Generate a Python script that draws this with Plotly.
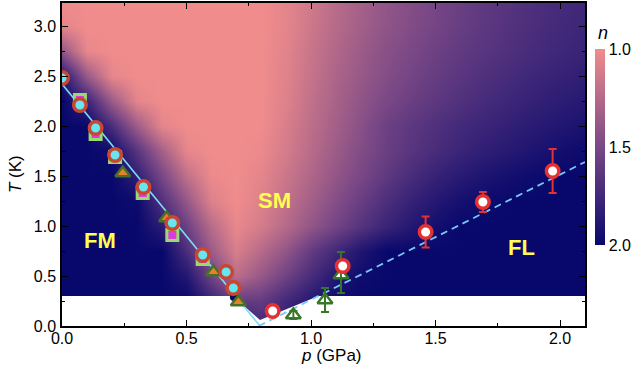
import plotly.graph_objects as go

# ---------------- data ----------------
# exponent n map (rows: T, columns: p)
p_grid = [0.0, 0.1, 0.2, 0.3, 0.4, 0.5, 0.6, 0.7, 0.8, 0.9, 1.0, 1.1, 1.2, 1.3, 1.4, 1.5, 1.6, 1.7, 1.8, 1.9, 2.0, 2.1]
T_grid = [0.0, 0.25, 0.5, 0.75, 1.0, 1.25, 1.5, 1.75, 2.0, 2.25, 2.5, 2.75, 3.0, 3.25]
n_grid = [
    [2, 2, 2, 2, 2, 2, 2, 1.85, 1.75, 1.85, 2, 2, 2, 2, 2, 2, 2, 2, 2, 2, 2, 2],
    [2, 2, 2, 2, 2, 2, 1.8, 1.6, 1.6, 1.75, 1.88, 1.96, 2, 2, 2, 2, 2, 2, 2, 2, 2, 2],
    [2, 2, 2, 2, 2, 1.88, 1.55, 1.23, 1.38, 1.55, 1.72, 1.88, 1.97, 2, 2, 2, 2, 2, 2, 2, 2, 2],
    [2, 2, 2, 2, 2, 1.7, 1.36, 1.1, 1.25, 1.4, 1.6, 1.75, 1.9, 2, 2, 2, 2, 2, 2, 2, 2, 2],
    [2, 2, 2, 2, 1.84, 1.55, 1.24, 1.03, 1.12, 1.25, 1.4, 1.53, 1.66, 1.78, 1.88, 1.95, 2, 2, 2, 2, 2, 2],
    [2, 2, 2, 1.98, 1.68, 1.38, 1.08, 1.0, 1.08, 1.2, 1.33, 1.46, 1.58, 1.7, 1.8, 1.88, 1.94, 1.98, 2, 2, 2, 2],
    [2, 2, 2, 1.82, 1.51, 1.2, 1.02, 1.0, 1.05, 1.16, 1.28, 1.4, 1.51, 1.62, 1.72, 1.8, 1.86, 1.91, 1.95, 1.98, 2, 2],
    [2, 2, 1.97, 1.65, 1.32, 1.04, 1.0, 1.0, 1.02, 1.12, 1.24, 1.36, 1.47, 1.57, 1.65, 1.72, 1.78, 1.83, 1.87, 1.91, 1.95, 1.98],
    [2, 2, 1.71, 1.35, 1.05, 1.0, 1.0, 1.0, 1.0, 1.1, 1.22, 1.33, 1.44, 1.56, 1.63, 1.69, 1.74, 1.78, 1.82, 1.86, 1.89, 1.92],
    [2, 1.78, 1.36, 1.05, 1.0, 1.0, 1.0, 1.0, 1.0, 1.08, 1.2, 1.31, 1.41, 1.5, 1.57, 1.63, 1.68, 1.73, 1.77, 1.81, 1.84, 1.87],
    [1.87, 1.37, 1.04, 1.0, 1.0, 1.0, 1.0, 1.0, 1.0, 1.07, 1.18, 1.29, 1.38, 1.46, 1.53, 1.59, 1.64, 1.69, 1.73, 1.77, 1.8, 1.83],
    [1.4, 1.03, 1.0, 1.0, 1.0, 1.0, 1.0, 1.0, 1.0, 1.06, 1.17, 1.27, 1.36, 1.44, 1.5, 1.56, 1.61, 1.65, 1.69, 1.73, 1.76, 1.79],
    [1.05, 1.0, 1.0, 1.0, 1.0, 1.0, 1.0, 1.0, 1.0, 1.05, 1.15, 1.25, 1.33, 1.41, 1.47, 1.53, 1.58, 1.63, 1.67, 1.71, 1.74, 1.77],
    [1.0, 1.0, 1.0, 1.0, 1.0, 1.0, 1.0, 1.0, 1.0, 1.05, 1.14, 1.24, 1.32, 1.4, 1.46, 1.52, 1.57, 1.62, 1.66, 1.7, 1.73, 1.76],
]

# region without data (white), outline in (p, T)
mask_p = [0.0, 0.0, 0.686, 0.795, 1.03, 2.1, 2.1, 0.0]
mask_T = [0.0, 0.3, 0.3, 0.06, 0.3, 0.3, 0.0, 0.0]

# phase lines
fm_line_p = [0.0, 0.795]
fm_line_T = [2.42, 0.0]
fl_line_p = [0.79, 2.1]
fl_line_T = [0.0, 1.64]

# markers
circ_p = [0.0, 0.072, 0.135, 0.213, 0.327, 0.443, 0.565, 0.659, 0.688]
circ_T = [2.48, 2.21, 1.98, 1.71, 1.39, 1.03, 0.71, 0.54, 0.38]
sq_p = [0.072, 0.135, 0.213, 0.324, 0.443, 0.565]
sq_T = [2.26, 1.92, 1.69, 1.33, 0.91, 0.67]
tri_p = [0.244, 0.42, 0.608, 0.708]
tri_T = [1.53, 1.08, 0.54, 0.24]
dot_p = [0.69]
dot_T = [0.29]
wc_p = [0.846, 1.127, 1.46, 1.69, 1.97]
wc_T = [0.15, 0.60, 0.94, 1.24, 1.55]
wc_err = [0.0, 0.0, 0.155, 0.10, 0.22]
ot_p = [0.929, 1.056, 1.12]
ot_T = [0.11, 0.26, 0.51]
ot_err_plus = [0.04, 0.12, 0.23]
ot_err_minus = [0.04, 0.12, 0.18]

labels_text = ["FM", "SM", "FL"]
labels_p = [0.153, 0.855, 1.847]
labels_T = [0.86, 1.26, 0.79]

cbar_vals = [1.0, 1.5, 2.0]
cbar_text = ["1.0", "1.5", "2.0"]

# ---------------- figure ----------------
FONT = "Liberation Sans, Arial, sans-serif"
fig = go.Figure()

fig.add_trace(go.Heatmap(
    x=p_grid, y=T_grid, z=[[-v for v in row] for row in n_grid],
    zmin=-2, zmax=-1, zsmooth="best",
    colorscale=[[0, "rgb(8,8,108)"], [0.5, "rgb(122,72,134)"], [1, "rgb(240,140,140)"]],
    colorbar=dict(
        x=1.019, xanchor="left", y=0.554, yanchor="middle", xpad=0, ypad=0,
        len=0.607, lenmode="fraction", thickness=10, outlinewidth=0,
        tickvals=[-v for v in cbar_vals], ticktext=cbar_text, ticks="",
        tickfont=dict(family=FONT, size=16, color="black"),
    ),
    hoverinfo="skip",
))

fig.add_trace(go.Scatter(x=mask_p, y=mask_T, mode="lines", fill="toself",
                         fillcolor="white", line=dict(width=0, color="white"),
                         hoverinfo="skip", showlegend=False))

fig.add_trace(go.Scatter(x=fm_line_p, y=fm_line_T, mode="lines",
                         line=dict(color="rgb(125,222,245)", width=1.6), showlegend=False))
fig.add_trace(go.Scatter(x=fl_line_p, y=fl_line_T, mode="lines",
                         line=dict(color="rgb(120,200,250)", width=1.8, dash="7px,5px"),
                         showlegend=False))

fig.add_trace(go.Scatter(x=dot_p, y=dot_T, mode="markers",
                         marker=dict(size=8, color="rgb(10,10,90)", line=dict(width=0)),
                         showlegend=False))
fig.add_trace(go.Scatter(x=tri_p, y=tri_T, mode="markers",
                         marker=dict(symbol="triangle-up", size=13, color="rgb(228,130,40)",
                                     line=dict(width=2.5, color="rgb(70,112,40)")),
                         showlegend=False))
fig.add_trace(go.Scatter(x=sq_p, y=sq_T, mode="markers",
                         marker=dict(symbol="square", size=11, color="rgb(220,60,220)",
                                     line=dict(width=3, color="rgb(150,220,110)")),
                         showlegend=False))
fig.add_trace(go.Scatter(x=circ_p, y=circ_T, mode="markers",
                         marker=dict(symbol="circle", size=12.5, color="rgb(102,230,240)",
                                     line=dict(width=3.5, color="rgb(200,70,50)")),
                         showlegend=False))
fig.add_trace(go.Scatter(x=ot_p, y=ot_T, mode="markers",
                         marker=dict(symbol="triangle-up", size=13, color="white",
                                     line=dict(width=2.5, color="rgb(55,120,40)")),
                         showlegend=False))
fig.add_trace(go.Scatter(x=ot_p, y=ot_T, mode="markers",
                         marker=dict(size=1, opacity=0),
                         error_y=dict(type="data", array=ot_err_plus, arrayminus=ot_err_minus,
                                      color="rgb(55,120,40)", thickness=2, width=4),
                         showlegend=False))
fig.add_trace(go.Scatter(x=wc_p, y=wc_T, mode="markers",
                         marker=dict(symbol="circle", size=12.5, color="white",
                                     line=dict(width=3.5, color="rgb(228,50,50)")),
                         error_y=dict(type="data", array=wc_err, color="rgb(228,50,50)",
                                      thickness=2, width=4),
                         showlegend=False))

for t, px, ty in zip(labels_text, labels_p, labels_T):
    fig.add_annotation(x=px, y=ty, xref="x", yref="y", text="<b>" + t + "</b>",
                       showarrow=False, font=dict(family=FONT, size=22, color="rgb(255,255,80)"))

fig.add_annotation(x=-0.09, y=0.47, xref="paper", yref="paper", text="<i>T</i> (K)",
                   textangle=-90, showarrow=False, xanchor="center", yanchor="middle",
                   font=dict(family=FONT, size=17, color="black"))
fig.add_annotation(x=0.516, y=-0.09, xref="paper", yref="paper", text="<i>p</i> (GPa)",
                   showarrow=False, xanchor="center", yanchor="middle",
                   font=dict(family=FONT, size=17, color="black"))
fig.add_annotation(x=1.034, y=0.907, xref="paper", yref="paper", text="<i>n</i>",
                   showarrow=False, xanchor="center", yanchor="middle",
                   font=dict(family=FONT, size=18, color="black"))

axis_common = dict(
    showgrid=False, zeroline=False, showline=True, linecolor="black", linewidth=1.5,
    mirror="allticks", ticks="inside", ticklen=6, tickwidth=1.2, tickcolor="black",
    tickformat=".1f", tickfont=dict(family=FONT, size=16, color="black"),
    minor=dict(ticks="inside", ticklen=3.5, tickwidth=1.2, tickcolor="black"),
)
fig.update_xaxes(range=[0, 2.1], dtick=0.5, tick0=0, minor_dtick=0.25,
                 ticklabelstandoff=-3, **axis_common)
fig.update_yaxes(range=[0, 3.23], dtick=0.5, tick0=0, minor_dtick=0.25,
                 ticklabelstandoff=1, **axis_common)

fig.update_layout(
    width=633, height=377,
    margin=dict(l=62, r=48, t=3, b=51, autoexpand=False),
    paper_bgcolor="white", plot_bgcolor="white",
    showlegend=False,
    font=dict(family=FONT),
)

fig.write_html("out.html", config={"displayModeBar": False},
               post_script="document.body.style.margin='0px';")
